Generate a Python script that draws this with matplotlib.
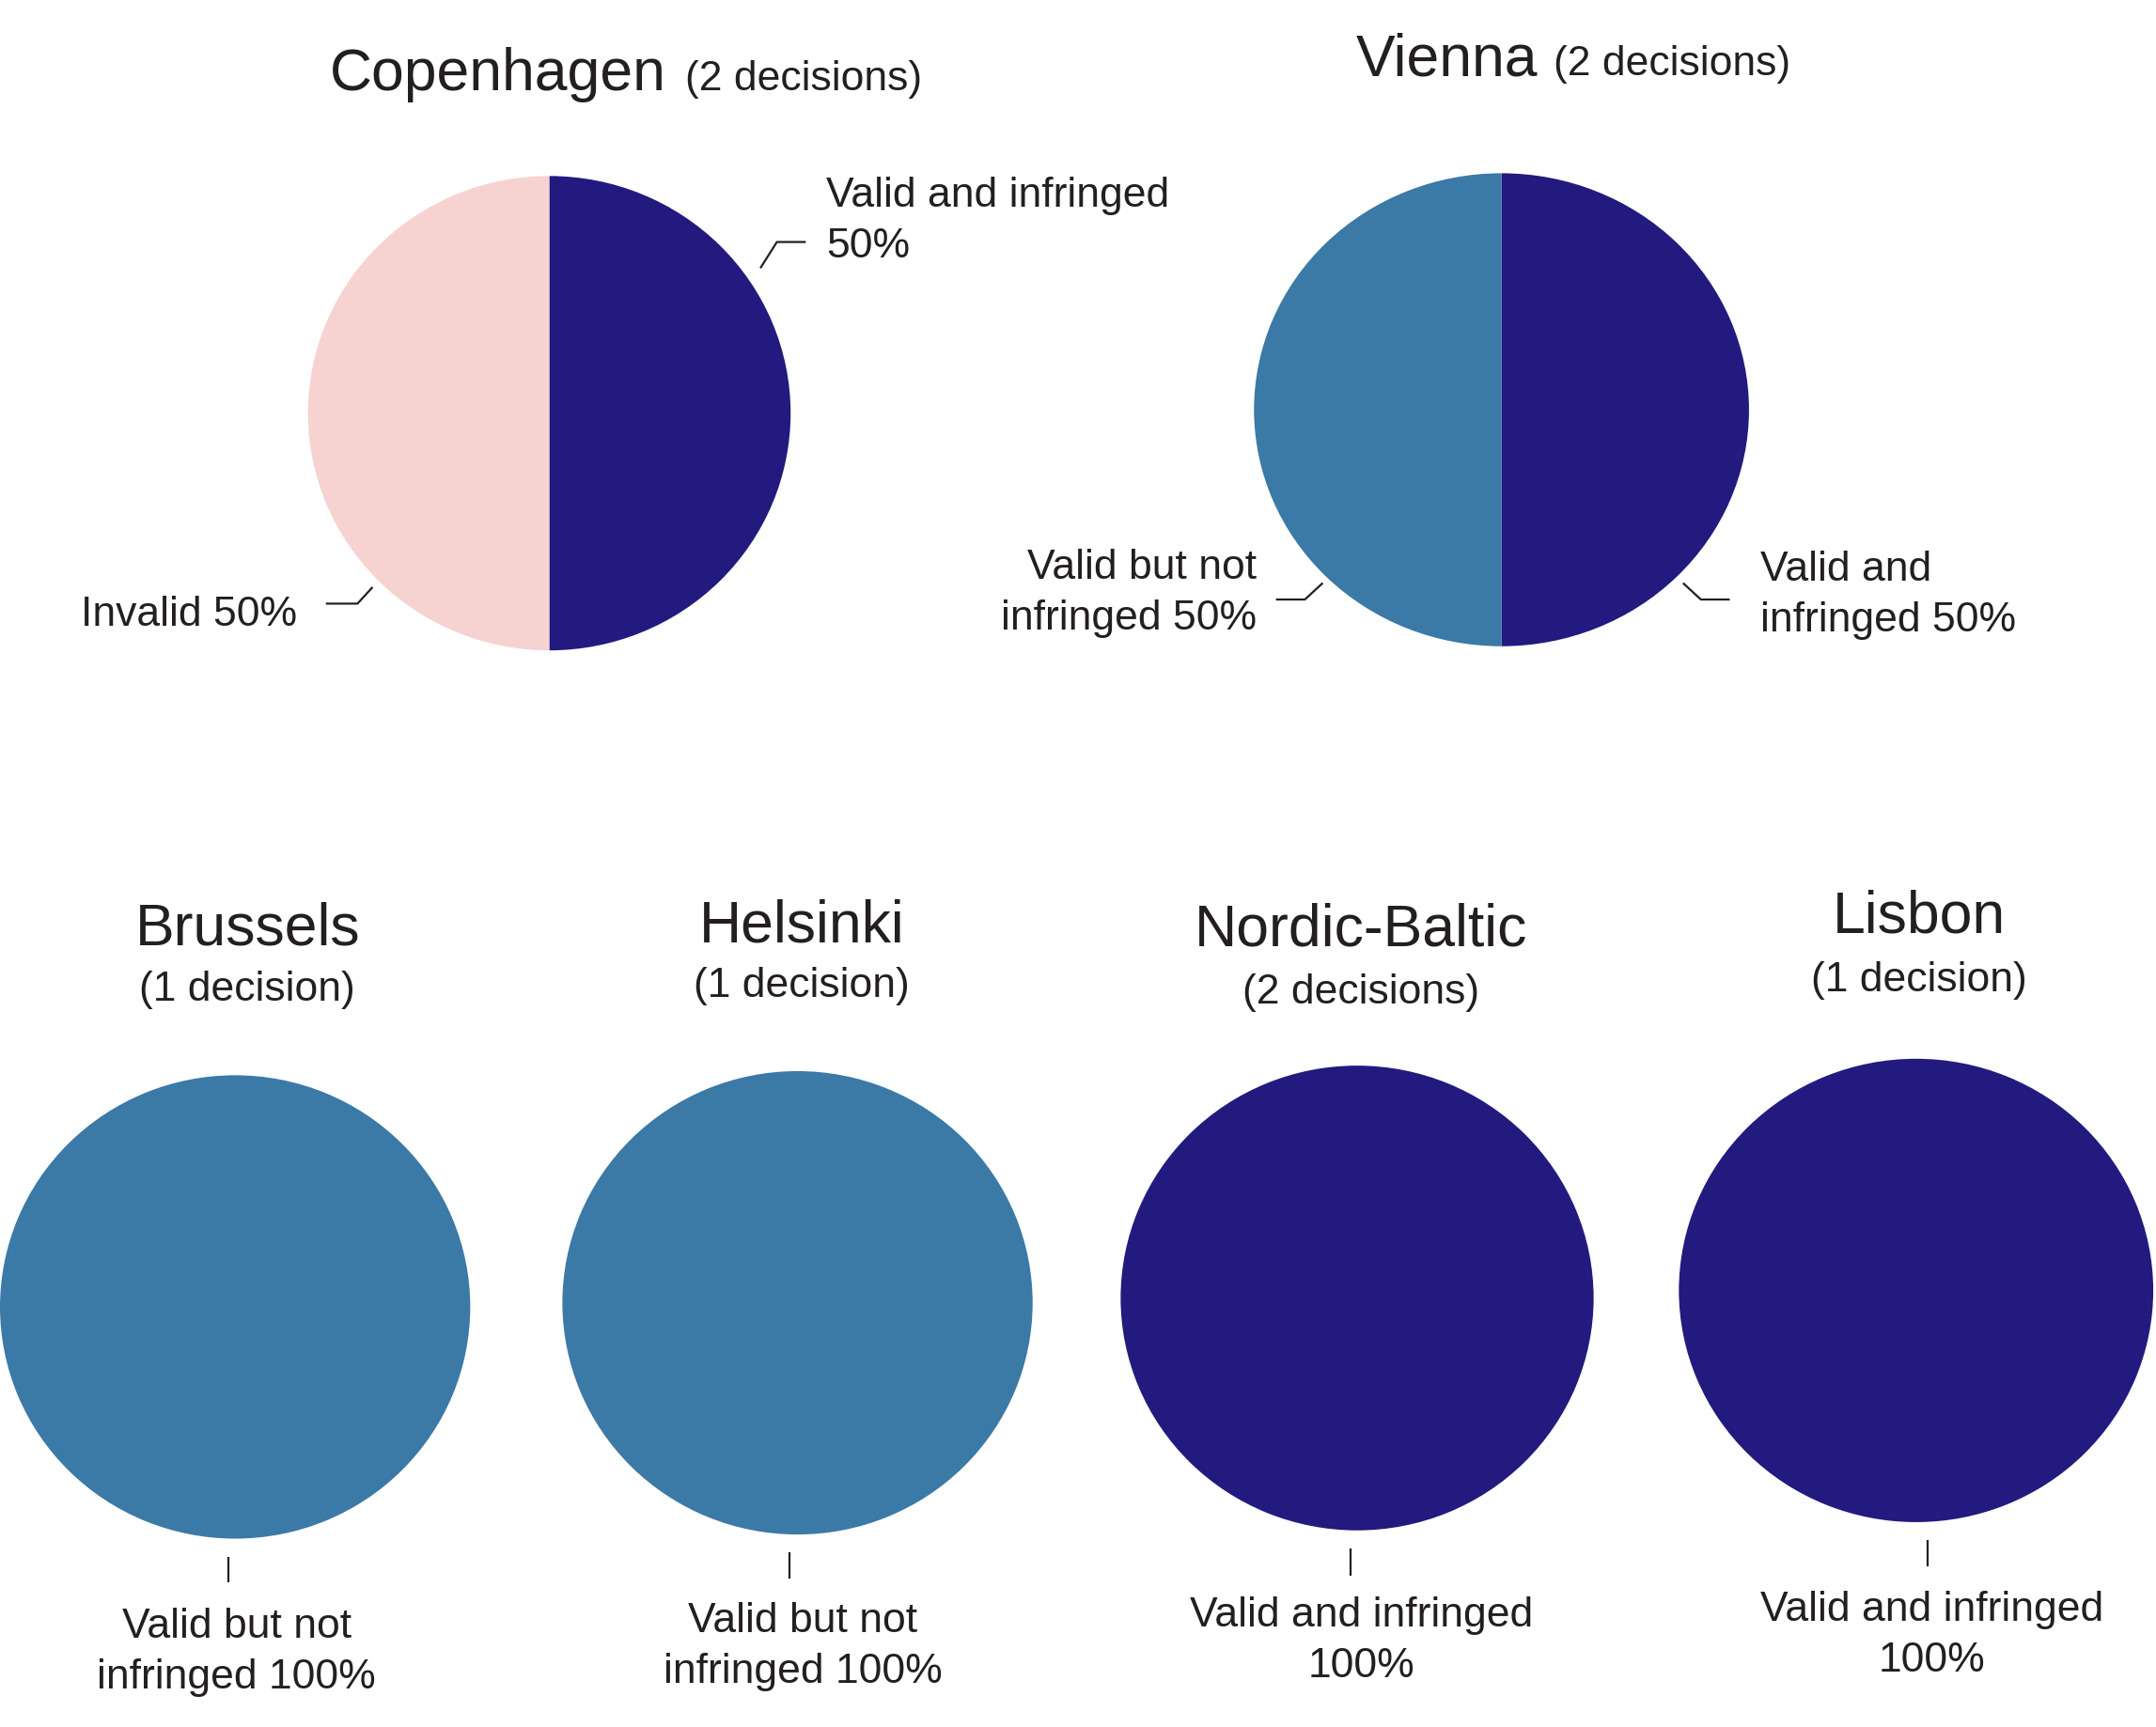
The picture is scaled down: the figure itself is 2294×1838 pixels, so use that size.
import matplotlib.pyplot as plt

plt.rcParams['font.family'] = ['Liberation Sans', 'DejaVu Sans']

# --- data
courts = ['Copenhagen', 'Vienna', 'Brussels', 'Helsinki', 'Nordic-Baltic', 'Lisbon']
decisions = [2, 2, 1, 1, 2, 1]
categories = ['Valid and infringed', 'Valid but not infringed', 'Invalid']
cat_colors = ['#221A7E', '#3B79A7', '#F6D2D0']
valid_infringed = [50, 50, 0, 0, 100, 100]
valid_not_infringed = [0, 50, 100, 100, 0, 0]
invalid = [50, 0, 0, 0, 0, 0]
shares = list(zip(valid_infringed, valid_not_infringed, invalid))

# --- layout (pixel coords of a 1568 x 1256 sketch, y downwards)
W, H = 1568, 1256
TXT = '#231F20'
BIG, SMALL = 45, 32

pie_boxes = [(224, 128, 575, 473), (912, 126, 1272, 470),
             (0, 782, 342, 1119), (409, 779, 751, 1116),
             (815, 775, 1159, 1113), (1221, 770, 1566, 1107)]

# inline titles: name left x, baseline, left x of the "(n decisions)" part
inline_titles = {0: (240, 65.5, 498), 1: (986, 55, 1130)}
# stacked titles: center x, name baseline, sub baseline
stacked_titles = {2: (180, 687, 728), 3: (583, 685, 725),
                  4: (990, 688, 730), 5: (1396, 678, 721)}

# labels: court, category, x, first baseline, ha, words on first line, leader
labels = [
    (0, 0, 601, 150, 'left', 3, [(553, 195), (565, 176), (586, 176)]),
    (0, 2, 216, 455, 'right', 2, [(271, 427), (260, 439), (237, 439)]),
    (1, 1, 914, 421, 'right', 3, [(962, 424), (949, 436), (928, 436)]),
    (1, 0, 1280, 422, 'left', 2, [(1224, 424), (1237, 436), (1258, 436)]),
    (2, 1, 172, 1191, 'center', 3, [(166, 1132), (166, 1151)]),
    (3, 1, 584, 1187, 'center', 3, [(574, 1129), (574, 1148)]),
    (4, 0, 990, 1183, 'center', 3, [(982, 1126), (982, 1146)]),
    (5, 0, 1405, 1179, 'center', 3, [(1402, 1120), (1402, 1139)]),
]
LINE_GAP = 37

fig = plt.figure(figsize=(22.94, 18.38), dpi=100)

for i, (x0, y0, x1, y1) in enumerate(pie_boxes):
    ax = fig.add_axes([x0 / W, 1 - y1 / H, (x1 - x0) / W, (y1 - y0) / H])
    vals = [v for v in shares[i] if v > 0]
    cols = [c for v, c in zip(shares[i], cat_colors) if v > 0]
    ax.pie(vals, colors=cols, startangle=90, counterclock=False, radius=1)
    ax.set_aspect('auto')
    ax.set_xlim(-1, 1)
    ax.set_ylim(-1, 1)
    ax.axis('off')

ov = fig.add_axes([0, 0, 1, 1])
ov.set_xlim(0, W)
ov.set_ylim(H, 0)
ov.axis('off')


def sub_title(n):
    return '(%d decision%s)' % (n, '' if n == 1 else 's')


for i, (x, y, xs) in inline_titles.items():
    ov.text(x, y, courts[i], fontsize=BIG, color=TXT, ha='left', va='baseline')
    ov.text(xs, y, sub_title(decisions[i]), fontsize=SMALL, color=TXT,
            ha='left', va='baseline')

for i, (x, y, ys) in stacked_titles.items():
    ov.text(x, y, courts[i], fontsize=BIG, color=TXT, ha='center', va='baseline')
    ov.text(x, ys, sub_title(decisions[i]), fontsize=SMALL, color=TXT,
            ha='center', va='baseline')

for ci, k, x, y, ha, nwords, leader in labels:
    words = ('%s %d%%' % (categories[k], shares[ci][k])).split()
    lines = [' '.join(words[:nwords]), ' '.join(words[nwords:])]
    for j, line in enumerate([l for l in lines if l]):
        ov.text(x, y + j * LINE_GAP, line, fontsize=SMALL, color=TXT,
                ha=ha, va='baseline')
    lx, ly = zip(*leader)
    ov.plot(lx, ly, color=TXT, lw=1.6, solid_capstyle='butt')

fig.savefig('out.png', dpi=100, facecolor='white')
